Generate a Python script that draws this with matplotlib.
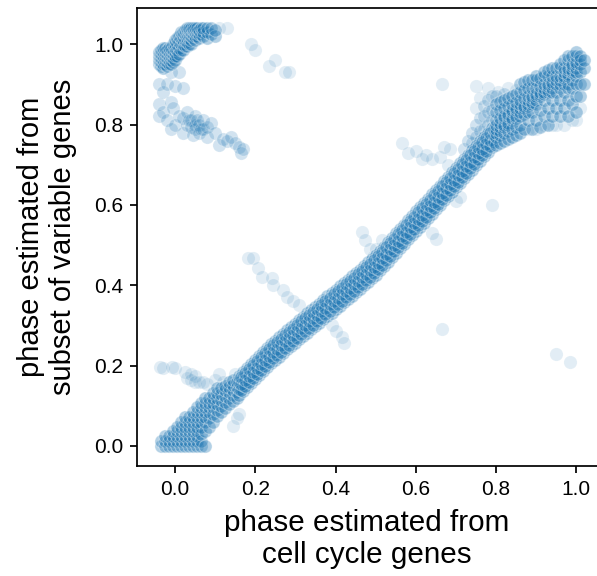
import matplotlib
matplotlib.use('Agg')
from matplotlib import pyplot as plt

plt.rcParams['font.family'] = ['Liberation Sans', 'DejaVu Sans']

# Each entry: (phase from cell cycle genes, [phases from variable genes]).
bottom_left = [
    (-0.035, [0.0, 0.012]), (-0.025, [0.0, 0.012, 0.024]), (-0.015, [0.0, 0.012, 0.024]),
    (-0.005, [0.0, 0.012, 0.024, 0.036]), (0.005, [0.0, 0.012, 0.024, 0.036, 0.048]),
    (0.015, [0.0, 0.012, 0.024, 0.036, 0.048, 0.06]), (0.025, [0.0, 0.012, 0.024, 0.036, 0.048, 0.06, 0.072]),
    (0.035, [0.0, 0.012, 0.024, 0.036, 0.048, 0.06, 0.072]),
    (0.045, [0.0, 0.012, 0.024, 0.036, 0.048, 0.06, 0.072, 0.084]),
    (0.055, [0.0, 0.012, 0.024, 0.036, 0.048, 0.06, 0.072, 0.084, 0.096]),
    (0.065, [0.0, 0.012, 0.03, 0.048, 0.06, 0.072, 0.084, 0.096, 0.108]),
    (0.075, [0.0, 0.036, 0.06, 0.072, 0.084, 0.096, 0.108, 0.12]),
    (0.085, [0.048, 0.07, 0.084, 0.096, 0.108, 0.12]),
    (0.095, [0.06, 0.08, 0.096, 0.108, 0.12, 0.132]),
    (0.105, [0.075, 0.09, 0.105, 0.12, 0.132, 0.144]),
    (0.115, [0.085, 0.1, 0.115, 0.13, 0.144]),
    (0.125, [0.095, 0.11, 0.125, 0.138, 0.15]),
    (0.135, [0.105, 0.12, 0.133, 0.146, 0.158]),
    (0.145, [0.112, 0.126, 0.14, 0.152, 0.164]),
    (0.155, [0.12, 0.134, 0.146, 0.158]),
]

diagonal = [
    (0.16, [0.126, 0.142, 0.158, 0.174]), (0.17, [0.136, 0.152, 0.168, 0.184]),
    (0.18, [0.146, 0.162, 0.178, 0.194]), (0.19, [0.156, 0.172, 0.188, 0.204]),
    (0.20, [0.166, 0.182, 0.198, 0.214]), (0.21, [0.176, 0.192, 0.208, 0.224]),
    (0.22, [0.186, 0.202, 0.218, 0.234]), (0.23, [0.196, 0.212, 0.228, 0.244]),
    (0.24, [0.206, 0.222, 0.238, 0.254]), (0.25, [0.214, 0.230, 0.246, 0.262]),
    (0.26, [0.222, 0.238, 0.254, 0.270]), (0.27, [0.231, 0.247, 0.263, 0.279]),
    (0.28, [0.240, 0.256, 0.272, 0.288]), (0.29, [0.248, 0.264, 0.280, 0.296]),
    (0.30, [0.256, 0.272, 0.288, 0.304]), (0.31, [0.266, 0.282, 0.298, 0.314]),
    (0.32, [0.274, 0.290, 0.306, 0.322]), (0.33, [0.282, 0.298, 0.314, 0.330]),
    (0.34, [0.290, 0.306, 0.322, 0.338]), (0.35, [0.298, 0.314, 0.330, 0.346]),
    (0.36, [0.306, 0.322, 0.338, 0.354]), (0.37, [0.315, 0.331, 0.347, 0.363]),
    (0.38, [0.324, 0.340, 0.356, 0.372]), (0.39, [0.332, 0.348, 0.364, 0.380]),
    (0.40, [0.341, 0.357, 0.373, 0.389]), (0.41, [0.349, 0.365, 0.381, 0.397]),
    (0.42, [0.357, 0.373, 0.389, 0.405]), (0.43, [0.366, 0.382, 0.398, 0.414]),
    (0.44, [0.374, 0.390, 0.406, 0.422]), (0.45, [0.382, 0.398, 0.414, 0.430]),
    (0.46, [0.391, 0.407, 0.423, 0.439]), (0.47, [0.400, 0.416, 0.432, 0.448]),
    (0.48, [0.409, 0.425, 0.441, 0.457]), (0.49, [0.417, 0.433, 0.449, 0.465]),
    (0.50, [0.426, 0.442, 0.458, 0.474]), (0.51, [0.437, 0.453, 0.469, 0.485]),
    (0.52, [0.448, 0.464, 0.480, 0.496]), (0.53, [0.459, 0.475, 0.491, 0.507]),
    (0.54, [0.470, 0.486, 0.502, 0.518]), (0.55, [0.481, 0.497, 0.513, 0.529]),
    (0.56, [0.492, 0.508, 0.524, 0.540]), (0.57, [0.503, 0.519, 0.535, 0.551]),
    (0.58, [0.514, 0.530, 0.546, 0.562]), (0.59, [0.525, 0.541, 0.557, 0.573]),
    (0.60, [0.536, 0.552, 0.568, 0.584]), (0.61, [0.546, 0.562, 0.578, 0.594]),
    (0.62, [0.556, 0.572, 0.588, 0.604]), (0.63, [0.567, 0.583, 0.599, 0.615]),
    (0.64, [0.578, 0.594, 0.610, 0.626]), (0.65, [0.589, 0.605, 0.621, 0.637]),
    (0.66, [0.600, 0.616, 0.632, 0.648]), (0.67, [0.611, 0.627, 0.643, 0.659]),
    (0.68, [0.622, 0.638, 0.654, 0.670]), (0.69, [0.633, 0.649, 0.665, 0.681]),
    (0.70, [0.644, 0.660, 0.676, 0.692]), (0.71, [0.655, 0.671, 0.687, 0.703]),
    (0.72, [0.666, 0.682, 0.698, 0.714]), (0.73, [0.677, 0.693, 0.709, 0.725]),
    (0.74, [0.688, 0.704, 0.720, 0.736]), (0.75, [0.699, 0.715, 0.731, 0.747]),
    (0.76, [0.710, 0.726, 0.742, 0.758]), (0.77, [0.721, 0.737, 0.753, 0.769]),
    (0.78, [0.732, 0.748, 0.764, 0.780]), (0.79, [0.743, 0.759, 0.775, 0.791]),
]

diagonal_between = [
    (0.165, [0.139, 0.155, 0.171]), (0.175, [0.149, 0.165, 0.181]),
    (0.185, [0.159, 0.175, 0.191]), (0.195, [0.169, 0.185, 0.201]),
    (0.205, [0.179, 0.195, 0.211]), (0.215, [0.189, 0.205, 0.221]),
    (0.225, [0.199, 0.215, 0.231]), (0.235, [0.209, 0.225, 0.241]),
    (0.245, [0.218, 0.234, 0.250]), (0.255, [0.226, 0.242, 0.258]),
    (0.265, [0.234, 0.250, 0.266]), (0.275, [0.244, 0.260, 0.276]),
    (0.285, [0.252, 0.268, 0.284]), (0.295, [0.260, 0.276, 0.292]),
    (0.305, [0.269, 0.285, 0.301]), (0.315, [0.278, 0.294, 0.310]),
    (0.325, [0.286, 0.302, 0.318]), (0.335, [0.294, 0.310, 0.326]),
    (0.345, [0.302, 0.318, 0.334]), (0.355, [0.310, 0.326, 0.342]),
    (0.365, [0.319, 0.335, 0.351]), (0.375, [0.328, 0.344, 0.360]),
    (0.385, [0.336, 0.352, 0.368]), (0.395, [0.345, 0.361, 0.377]),
    (0.405, [0.353, 0.369, 0.385]), (0.415, [0.361, 0.377, 0.393]),
    (0.425, [0.370, 0.386, 0.402]), (0.435, [0.378, 0.394, 0.410]),
    (0.445, [0.386, 0.402, 0.418]), (0.455, [0.395, 0.411, 0.427]),
    (0.465, [0.404, 0.420, 0.436]), (0.475, [0.413, 0.429, 0.445]),
    (0.485, [0.421, 0.437, 0.453]), (0.495, [0.430, 0.446, 0.462]),
    (0.505, [0.440, 0.456, 0.472]), (0.515, [0.451, 0.467, 0.483]),
    (0.525, [0.462, 0.478, 0.494]), (0.535, [0.473, 0.489, 0.505]),
    (0.545, [0.484, 0.500, 0.516]), (0.555, [0.495, 0.511, 0.527]),
    (0.565, [0.506, 0.522, 0.538]), (0.575, [0.517, 0.533, 0.549]),
    (0.585, [0.528, 0.544, 0.560]), (0.595, [0.539, 0.555, 0.571]),
    (0.605, [0.549, 0.565, 0.581]), (0.615, [0.559, 0.575, 0.591]),
    (0.625, [0.570, 0.586, 0.602]), (0.635, [0.581, 0.597, 0.613]),
    (0.645, [0.592, 0.608, 0.624]), (0.655, [0.603, 0.619, 0.635]),
    (0.665, [0.614, 0.630, 0.646]), (0.675, [0.625, 0.641, 0.657]),
    (0.685, [0.636, 0.652, 0.668]), (0.695, [0.647, 0.663, 0.679]),
    (0.705, [0.658, 0.674, 0.690]), (0.715, [0.669, 0.685, 0.701]),
    (0.725, [0.680, 0.696, 0.712]), (0.735, [0.691, 0.707, 0.723]),
    (0.745, [0.702, 0.718, 0.734]), (0.755, [0.713, 0.729, 0.745]),
    (0.765, [0.724, 0.740, 0.756]), (0.775, [0.735, 0.751, 0.767]),
    (0.785, [0.746, 0.762, 0.778]), (0.795, [0.757, 0.773, 0.789]),
]

upper_right = [
    (0.80, [0.75, 0.77, 0.78, 0.79, 0.80, 0.81, 0.83, 0.85]),
    (0.81, [0.755, 0.775, 0.785, 0.795, 0.805, 0.815, 0.835, 0.855]),
    (0.82, [0.76, 0.78, 0.795, 0.80, 0.815, 0.82, 0.84, 0.86]),
    (0.83, [0.765, 0.785, 0.80, 0.805, 0.82, 0.825, 0.845, 0.865]),
    (0.84, [0.77, 0.79, 0.81, 0.815, 0.83, 0.835, 0.85, 0.87]),
    (0.85, [0.775, 0.795, 0.815, 0.82, 0.835, 0.84, 0.855, 0.875]),
    (0.86, [0.78, 0.80, 0.82, 0.83, 0.84, 0.85, 0.86, 0.88, 0.90]),
    (0.87, [0.79, 0.825, 0.84, 0.845, 0.865, 0.885, 0.905]),
    (0.88, [0.81, 0.83, 0.845, 0.85, 0.86, 0.87, 0.89, 0.91]),
    (0.89, [0.79, 0.83, 0.85, 0.855, 0.865, 0.87, 0.89, 0.91]),
    (0.90, [0.81, 0.85, 0.86, 0.87, 0.875, 0.89, 0.91, 0.92]),
    (0.91, [0.795, 0.835, 0.87, 0.875, 0.88, 0.895, 0.915]),
    (0.92, [0.82, 0.86, 0.875, 0.88, 0.89, 0.90, 0.92, 0.93]),
    (0.93, [0.80, 0.84, 0.88, 0.885, 0.895, 0.90, 0.92, 0.935]),
    (0.94, [0.82, 0.86, 0.88, 0.89, 0.90, 0.905, 0.92, 0.94]),
    (0.95, [0.84, 0.88, 0.90, 0.91, 0.92, 0.94]),
    (0.96, [0.82, 0.86, 0.89, 0.90, 0.91, 0.92, 0.94, 0.95]),
    (0.97, [0.84, 0.88, 0.90, 0.915, 0.92, 0.93, 0.94, 0.96]),
    (0.98, [0.82, 0.86, 0.89, 0.90, 0.92, 0.925, 0.935, 0.94, 0.96, 0.97]),
    (0.99, [0.85, 0.89, 0.91, 0.93, 0.935, 0.945, 0.95, 0.97]),
    (1.00, [0.83, 0.87, 0.90, 0.92, 0.93, 0.94, 0.95, 0.955, 0.97, 0.98]),
    (1.01, [0.87, 0.90, 0.93, 0.95, 0.96, 0.97]),
    (1.02, [0.90, 0.94, 0.96]),
]

top_left = [
    (-0.04, [0.95, 0.96, 0.97, 0.98]), (-0.035, [0.945, 0.955, 0.965, 0.975, 0.985]),
    (-0.03, [0.94, 0.95, 0.96, 0.97, 0.98, 0.99]), (-0.025, [0.95, 0.96, 0.97, 0.98, 0.99]),
    (-0.02, [0.945, 0.955, 0.965, 0.975, 0.985]), (-0.015, [0.95, 0.96, 0.97, 0.98, 0.99]),
    (-0.01, [0.95, 0.96, 0.97, 0.98, 0.99]), (-0.005, [0.955, 0.965, 0.975, 0.985, 1.0]),
    (0.0, [0.96, 0.97, 0.98, 0.99, 1.0, 1.01]), (0.005, [0.97, 0.985, 1.0, 1.015]),
    (0.01, [0.975, 0.99, 1.005, 1.02]), (0.015, [0.985, 1.0, 1.015, 1.03]),
    (0.02, [0.985, 1.0, 1.01, 1.02, 1.03]), (0.025, [0.995, 1.01, 1.025, 1.035]),
    (0.03, [0.995, 1.005, 1.015, 1.025, 1.035, 1.04]), (0.035, [1.0, 1.015, 1.025, 1.035, 1.04]),
    (0.04, [1.0, 1.01, 1.02, 1.03, 1.04]), (0.045, [1.015, 1.025, 1.035, 1.04]),
    (0.05, [1.01, 1.02, 1.03, 1.04]), (0.055, [1.02, 1.03, 1.04]),
    (0.06, [1.015, 1.025, 1.035]), (0.065, [1.025, 1.04]),
    (0.07, [1.02, 1.03, 1.04]), (0.08, [1.015, 1.03, 1.04]),
    (0.09, [1.025, 1.04]), (0.10, [1.02, 1.035]),
]

left_middle = [
    (-0.04, [0.82, 0.85, 0.90]), (-0.03, [0.83, 0.88]), (-0.02, [0.81, 0.90]),
    (-0.01, [0.79, 0.855, 0.93]), (-0.005, [0.84]), (0.0, [0.80, 0.895]),
    (0.01, [0.82, 0.93]), (0.02, [0.78, 0.815, 0.89]), (0.03, [0.80, 0.83]),
    (0.035, [0.81]), (0.04, [0.81, 0.795]), (0.045, [0.775]), (0.05, [0.80, 0.82, 0.79]),
    (0.055, [0.81]), (0.06, [0.78, 0.80]), (0.065, [0.79]), (0.07, [0.79, 0.81]),
    (0.08, [0.77, 0.795]), (0.09, [0.805]), (0.10, [0.78]), (0.11, [0.75]),
    (0.12, [0.765]), (0.13, [0.76]), (0.14, [0.77]), (0.15, [0.755]),
    (0.16, [0.745]), (0.165, [0.73]), (0.17, [0.74]),
    # fringe on the upper-left side of the upper cloud
    (0.72, [0.74]), (0.73, [0.76]), (0.74, [0.755, 0.78]), (0.75, [0.77, 0.80]),
    (0.76, [0.785, 0.815]), (0.77, [0.79, 0.82, 0.845]), (0.78, [0.80, 0.83, 0.86]),
    (0.79, [0.81, 0.835, 0.87]), (0.80, [0.87]), (0.82, [0.875]),
]

branches = [
    # loose points right of the top-left cluster
    (0.11, [1.04]), (0.13, [1.04]), (0.19, [1.0]), (0.20, [0.985]), (0.25, [0.96]),
    (0.235, [0.945]), (0.275, [0.93]), (0.285, [0.93]),
    # lower left arm near 0.2
    (-0.037, [0.197]), (-0.03, [0.195]), (-0.008, [0.197]), (0.0, [0.195]),
    (0.025, [0.185]), (0.03, [0.17]), (0.04, [0.18, 0.165]), (0.05, [0.175, 0.16]),
    (0.06, [0.16]), (0.07, [0.16]), (0.08, [0.155]), (0.10, [0.165]),
    (0.11, [0.18]), (0.12, [0.16]), (0.15, [0.18]),
    # below the diagonal near 0.15
    (0.145, [0.05]), (0.155, [0.07]), (0.16, [0.08]),
    # arm from 0.18 down to 0.31
    (0.182, [0.468]), (0.195, [0.468]), (0.207, [0.443]), (0.216, [0.42]),
    (0.242, [0.418]), (0.245, [0.40]), (0.27, [0.388]), (0.28, [0.37]),
    (0.295, [0.36]), (0.31, [0.35]),
    # below the diagonal near 0.4
    (0.39, [0.30]), (0.40, [0.285]), (0.415, [0.27]), (0.42, [0.256]),
    # short arm near 0.47
    (0.466, [0.532]), (0.474, [0.512]), (0.486, [0.49]), (0.494, [0.47]),
    (0.50, [0.49]), (0.516, [0.512]), (0.64, [0.53]), (0.65, [0.515]),
    # arm from 0.57 to 0.68
    (0.566, [0.755]), (0.58, [0.73]), (0.60, [0.735]), (0.615, [0.715]),
    (0.625, [0.725]), (0.64, [0.715]), (0.66, [0.72]), (0.67, [0.745]),
    (0.68, [0.70]), (0.685, [0.74]), (0.70, [0.61]), (0.71, [0.62]),
    # loose points left of the upper cloud
    (0.75, [0.84, 0.895]), (0.76, [0.865]), (0.78, [0.89]),
    (0.805, [0.88]), (0.83, [0.89]), (0.85, [0.885]),
    # faint lower edge of the upper cloud
    (0.88, [0.79]), (0.90, [0.79]), (0.92, [0.80]), (0.94, [0.80]), (0.95, [0.80]),
    (0.97, [0.80]), (0.99, [0.81]), (1.00, [0.81]), (1.01, [0.84]),
]

outliers = [(0.665, [0.90]), (0.79, [0.60]), (0.665, [0.29]), (0.95, [0.23]), (0.985, [0.21])]


def unpack(groups):
    xs, ys = [], []
    for group in groups:
        for px, col in group:
            xs += [px] * len(col)
            ys += col
    return xs, ys


fig = plt.figure(figsize=(5.97, 5.76), dpi=100)
ax = fig.add_axes([137 / 597, 1 - 466 / 576, 460 / 597, 458 / 576])
for groups, alpha in [([branches, outliers], 0.13),
                      ([left_middle], 0.2),
                      ([bottom_left, diagonal, diagonal_between, upper_right, top_left], 0.34)]:
    gx, gy = unpack(groups)
    ax.scatter(gx, gy, s=90, color='#1f77b4', alpha=alpha, edgecolor='white', linewidth=0.75)

ax.set_xlim(-0.095, 1.052)
ax.set_ylim(-0.05, 1.09)
ax.set_xticks([0.0, 0.2, 0.4, 0.6, 0.8, 1.0])
ax.set_yticks([0.0, 0.2, 0.4, 0.6, 0.8, 1.0])
ax.spines['right'].set_visible(False)
for side in ['left', 'bottom', 'top']:
    ax.spines[side].set_linewidth(1.25)
ax.tick_params(labelsize=15, width=1.25, length=5, pad=5)
ax.set_xlabel('phase estimated from\ncell cycle genes', fontsize=21.3, labelpad=7)
ax.set_ylabel('phase estimated from\nsubset of variable genes', fontsize=21, labelpad=12)

fig.savefig('out.png', dpi=100)
